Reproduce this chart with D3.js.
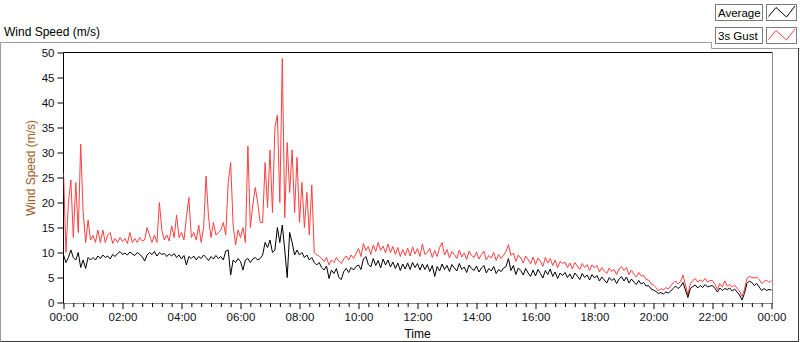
<!DOCTYPE html>
<html>
<head>
<meta charset="utf-8">
<script src="https://d3js.org/d3.v7.min.js"></script>
<title>Wind Speed</title>
<style>
    body { margin: 0; background: #fff; }
    svg text { font-family: "Liberation Sans", Arial, sans-serif; }
</style>
</head>
<body>
<svg id="chart"></svg>
<script>
// 5 minute samples, 00:00 .. 24:00
const stepMinutes = 5;

const avgSpeed = [
    9.5, 8, 9, 10.5, 9, 8.5, 10, 7, 8.5, 6.8, 9, 8.5,
    9, 8.5, 9.3, 8.8, 9.5, 9, 9.3, 8.7, 9.6, 9.2, 9.8, 10.2,
    9.6, 9.9, 9.5, 10.1, 9.7, 9.4, 10, 9.6, 9.2, 8.3, 9.5, 10,
    9.6, 10.2, 9.3, 10, 9.6, 9.8, 9.2, 9.7, 9.3, 9.8, 9, 9.5,
    8.7, 9.4, 7.5, 9.2, 8.8, 9.3, 8.5, 9.2, 8.8, 9.5, 9, 8.4,
    9.2, 8.7, 9.4, 8.8, 9.2, 8.5, 10.3, 10.5, 5.5, 8.5, 8, 8.8,
    8.2, 6.5, 8.5, 8.8, 8, 8.7, 9, 8.5, 8.8, 9.5, 12, 11,
    12.5, 10, 10.5, 15, 12, 15.5, 10.5, 5, 14, 12, 9.5, 10.5,
    9.5, 10, 9, 9.5, 8.5, 9, 8, 7.5, 8, 7, 6.5, 7.3,
    4.8, 6.5, 5.8, 6.8, 5, 4.6, 6.2, 6.8, 6, 7, 6.5, 7.2,
    7.5, 6.6, 8.7, 9.2, 7.6, 7.1, 8.8, 7.4, 8.4, 6.9, 8.7, 7.5,
    8.5, 7.1, 8.1, 6.8, 7.9, 6.4, 7.7, 6.7, 7.9, 6.6, 8, 7,
    7.8, 6.5, 7.7, 6.6, 7.6, 6.2, 7.4, 5.2, 7.2, 6.3, 7.7, 6.6,
    7.4, 6.2, 7.6, 6.9, 6.3, 7.8, 6.6, 7.1, 6, 7.5, 6.8, 6.4,
    7.3, 6.1, 6.9, 7.4, 5.9, 6.8, 6.3, 7.2, 5.8, 6.6, 6.2, 6.9,
    7.2, 8.8, 6.4, 7.4, 5.6, 6.9, 6.4, 5.5, 6.8, 5.9, 5.2, 6.5,
    5.3, 6.6, 5.8, 4.9, 6.4, 5.6, 6.7, 5.2, 6.1, 4.8, 5.9, 5.4,
    6, 5, 5.7, 4.7, 5.9, 5.3, 4.6, 5.8, 5, 5.5, 4.5, 5.6,
    4.9, 5.4, 4.3, 5.1, 4.5, 3.9, 5, 4.4, 4.8, 3.8, 4.7, 5.2,
    4.3, 5.1, 3.9, 4.7, 4.1, 3.6, 4.4, 3.7, 4, 3.3, 3.4, 2.7,
    2.5, 2.2, 1.8, 2, 1.7, 2.1, 1.9, 2.3, 2.8, 3.3, 2.8, 3.2,
    4, 2.5, 1, 2.8, 3.2, 3.5, 2.9, 3.4, 3, 3.6, 3.1, 3.3,
    3.4, 2.8, 2.1, 2.9, 2.4, 2.8, 2.6, 2.9, 2.3, 2.7, 2.1, 1.5,
    0.5, 1.8, 3.8, 4.3, 4, 3.4, 3.8, 3.1, 2.4, 2.8, 2.4, 2.6, 2.5
];

const gustSpeed = [
    26, 10, 20, 24.5, 13, 24, 14, 31.7, 18, 12, 16.5, 12.5,
    13.4, 12, 14.5, 12, 14.5, 12, 13.5, 14, 11.8, 12.8, 12, 13,
    12.2, 12.8, 11.8, 14, 12, 12.8, 12, 13, 12.3, 12.5, 15, 13.5,
    12, 13.5, 12, 20, 14.5, 12.5, 13.5, 12.3, 15.3, 13, 17.5, 13,
    14, 12.5, 17, 21, 13, 14, 12.5, 15.5, 12, 15, 25.3, 17,
    13, 16, 13.5, 14, 14.5, 16, 13.5, 24, 28, 15.5, 11.5, 14.5,
    13, 15, 12, 31.3, 15, 19.5, 23, 20, 16, 16, 28, 19,
    30.5, 18, 35, 37.5, 20, 48.8, 17, 32, 22, 30.5, 18, 29,
    16, 24, 15, 22, 13.5, 23.5, 10, 9.5, 9.3, 8.8, 8.2, 9,
    7.5, 8.5, 8, 9, 8.3, 7.8, 8.7, 9.3, 8.5, 9.5, 8.8, 9.8,
    10.8, 9.2, 11.8, 10.4, 11.2, 9.6, 11.5, 10.2, 12, 10.4, 11.3, 9.9,
    11.7, 10, 11.2, 9.6, 11, 9.2, 10.6, 9.4, 10.9, 9.3, 11.1, 9.7,
    10.8, 9.2, 11.7, 9.6, 10, 10.8, 9, 10.4, 9.2, 11, 12, 9.5,
    10.6, 8.9, 10.2, 9.6, 8.8, 10.5, 9.1, 9.9, 8.6, 10.3, 9.4, 9,
    10.1, 8.7, 9.6, 10.3, 8.5, 9.4, 8.9, 10, 8.4, 9.6, 8.8, 9.5,
    10.2, 11.6, 9.4, 9.9, 8.2, 9.5, 8.9, 7.9, 9.3, 8.6, 7.7, 9.1,
    7.6, 8.9, 8.3, 7.2, 9, 7.9, 8.8, 7.4, 8.5, 7, 8.2, 7.8,
    8.1, 7, 7.9, 6.7, 8, 7.3, 6.6, 7.8, 7, 7.6, 6.4, 7.5,
    6.9, 7.4, 6.1, 7, 6.3, 5.8, 6.9, 6.2, 6.6, 5.6, 6.7, 7.2,
    6.4, 7, 5.6, 6.5, 5.7, 5.1, 6, 5.3, 5.4, 4.6, 4.5, 3.7,
    3.5, 3, 2.3, 2.8, 2.5, 3, 2.7, 3.3, 3.9, 4.3, 3.7, 4.2,
    5.5, 3.5, 1.5, 3.8, 4.4, 4.8, 4.1, 4.5, 4.2, 4.8, 4.1, 4.4,
    4.4, 3.6, 2.6, 3.8, 3.1, 4.3, 3.3, 3.6, 3.1, 3.5, 2.8, 2.3,
    1.2, 2.6, 4.8, 5.2, 5, 4.9, 5.1, 4.6, 3.8, 4.2, 4.5, 4, 4.4
];

const seriesNames = ["Average", "3s Gust"];
const seriesColors = ["#000000", "#ff3f3f"];
const yTicks = [0, 5, 10, 15, 20, 25, 30, 35, 40, 45, 50];
const xMajorTicks = [0, 120, 240, 360, 480, 600, 720, 840, 960, 1080, 1200, 1320, 1440];
const xTickLabels = ["00:00", "02:00", "04:00", "06:00", "08:00", "10:00", "12:00",
    "14:00", "16:00", "18:00", "20:00", "22:00", "00:00"];

(function () {
    const width = 800, height = 342;
    const left = 63.5, right = 771.5, top = 52.5, bottom = 302.5;

    const svg = d3.select("#chart")
        .attr("width", width)
        .attr("height", height);

    const x = d3.scaleLinear().domain([0, 1440]).range([left, right]);
    const y = d3.scaleLinear().domain([0, 50]).range([bottom, top]);

    // outer frame
    const frame = svg.append("g").attr("fill", "none").attr("stroke-width", 1);
    frame.append("path").attr("stroke", "#9a9a9a")
        .attr("d", "M0.5,341.5V42.5H711.5V48.5H800");
    frame.append("path").attr("stroke", "#3a3a3a")
        .attr("d", "M0.5,341.5H798.5V48.5");

    svg.append("text")
        .attr("x", 4).attr("y", 36)
        .attr("font-size", 12)
        .text("Wind Speed (m/s)");

    // legend
    const legend = svg.selectAll(".legend")
        .data(seriesNames)
        .enter().append("g")
        .attr("class", "legend")
        .attr("transform", (d, i) => "translate(0," + (i * 23) + ")");
    legend.append("rect")
        .attr("x", 715.5).attr("y", 4.5).attr("width", 47).attr("height", 16)
        .attr("fill", "#fff").attr("stroke", "#7a7a7a");
    legend.append("text")
        .attr("x", 718).attr("y", 17)
        .attr("font-size", 11.5)
        .text(d => d);
    legend.append("rect")
        .attr("x", 766.5).attr("y", 4.5).attr("width", 30).attr("height", 16)
        .attr("fill", "#fff").attr("stroke", "#7a7a7a");
    legend.append("path")
        .attr("d", "M768.5,16.5L776,7.5L786.5,17L795,6")
        .attr("fill", "none")
        .attr("stroke", (d, i) => seriesColors[i]);

    // plot box
    svg.append("path")
        .attr("d", "M" + left + "," + (bottom + 0.5) + "V" + top + "H772.5")
        .attr("fill", "none").attr("stroke", "#000");
    svg.append("path")
        .attr("d", "M772.5," + top + "V303.5H" + left)
        .attr("fill", "none").attr("stroke", "#8c8c8c");

    svg.append("clipPath").attr("id", "clip")
        .append("rect")
        .attr("x", left).attr("y", top)
        .attr("width", 772 - left).attr("height", bottom - top + 1);

    const line = d3.line()
        .x((d, i) => x(i * stepMinutes))
        .y(d => y(d));

    const plots = svg.append("g").attr("clip-path", "url(#clip)");
    plots.append("path")
        .datum(gustSpeed)
        .attr("d", line)
        .attr("fill", "none")
        .attr("stroke", seriesColors[1])
        .attr("stroke-width", 1);
    plots.append("path")
        .datum(avgSpeed)
        .attr("d", line)
        .attr("fill", "none")
        .attr("stroke", seriesColors[0])
        .attr("stroke-width", 1);

    // y axis
    const yAxis = svg.append("g")
        .attr("transform", "translate(" + left + ",0)")
        .call(d3.axisLeft(y).tickValues(yTicks).tickSize(6).tickPadding(3));
    yAxis.select(".domain").remove();
    yAxis.selectAll("text")
        .attr("font-size", 11.5)
        .attr("fill", "#101020")
        .attr("font-family", "Liberation Sans, Arial, sans-serif");

    svg.append("text")
        .attr("transform", "translate(35,168) rotate(-90)")
        .attr("text-anchor", "middle")
        .attr("font-size", 12)
        .attr("fill", "#a35a1c")
        .text("Wind Speed (m/s)");

    // x axis: minor ticks every 20 minutes
    const minor = d3.range(0, 1441, 20).filter(m => m % 120 !== 0);
    const xMinor = svg.append("g")
        .attr("transform", "translate(0,303)")
        .call(d3.axisBottom(x).tickValues(minor).tickSize(4).tickFormat(""));
    xMinor.select(".domain").remove();

    const xAxis = svg.append("g")
        .attr("transform", "translate(0,303)")
        .call(d3.axisBottom(x).tickValues(xMajorTicks).tickSize(6).tickPadding(4)
            .tickFormat((d, i) => xTickLabels[i]));
    xAxis.select(".domain").remove();
    xAxis.selectAll("text")
        .attr("font-size", 11.5)
        .attr("fill", "#101020")
        .attr("font-family", "Liberation Sans, Arial, sans-serif");

    svg.append("text")
        .attr("x", 417.5).attr("y", 338)
        .attr("text-anchor", "middle")
        .attr("font-size", 12)
        .text("Time");
})();
</script>
</body>
</html>
